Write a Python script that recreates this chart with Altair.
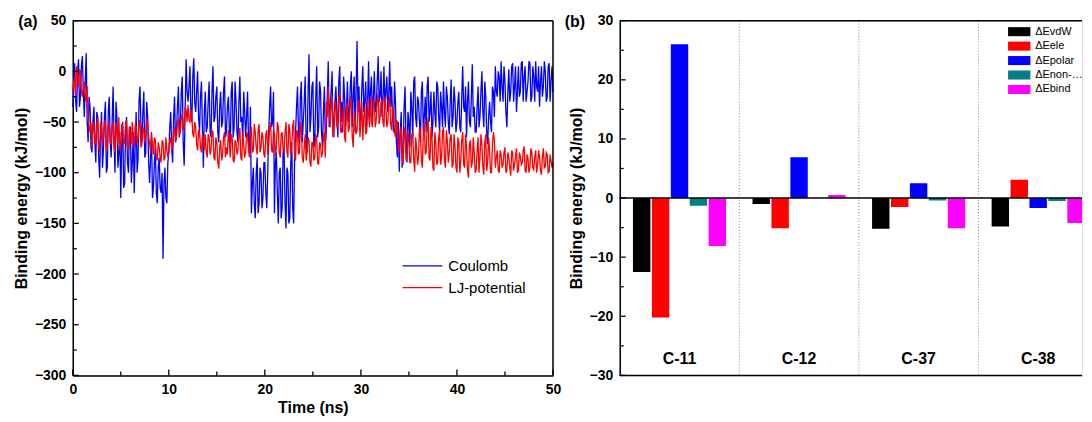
import altair as alt
import pandas as pd

# ---------------- panel (a): time series ----------------
# values at t = 0.0, 0.2, ..., 50.0 ns
coulomb_even = [
    -35, 8, -40, 12, -25, 15, -45, 18, -70, -35,
    -80, -35, -90, -45, -105, -40, -75, -30, -95, -25,
    -85, -15, -100, -45, -80, -125, -50, -110, -45, -100,
    -55, -90, -120, -40, -85, -15, -70, -20, -80, -45,
    -110, -60, -115, -75, -130, -85, -120, -185, -95, -130,
    -80, -40, -90, -25, -60, -15, -55, -5, -93, 12,
    -30, 5, -50, 13, -40, 0, -60, -10, -95, -20,
    -55, -10, -65, 5, -45, -15, -70, -20, -50, -5,
    -60, -25, -75, -10, -55, -30, -70, -5, -45, -20,
    -65, -20, -80, -140, -95, -145, -85, -130, -100, -125,
    -90, -135, -60, -15, -50, -140, -80, -150, -95, -135,
    -75, -155, -100, -145, -70, -150, -60, -15, -75, -10,
    -50, -5, -80, 17, -45, -10, -70, 5, -55, -20,
    -75, -15, -60, 10, -35, 0, -50, -15, -65, 5,
    -30, -5, -55, -10, -40, 0, -25, -60, 30, -15,
    -45, 5, -30, -55, 10, -20, -50, 0, -35, 15,
    -25, -45, 5, -20, -40, 10, -15, -60, -30, -85,
    -99, -40, -80, -15, -90, -50, -20, -65, -5, -55,
    -30, -70, -10, -45, -60, -5, -40, -65, -20, -55,
    -15, -60, -35, -10, -55, -25, -62, -8, -45, -30,
    -50, -20, -60, 5, -40, -65, -10, -55, 7, -35,
    -60, -15, -45, 0, -55, -25, -72, -30, -60, -20,
    5, -25, -5, 10, -30, -10, -55, 2, -20, 8,
    -15, -40, 5, -20, 10, -5, -30, -10, 8, -25,
    -5, 10, -20, -35, 5, -15, 0, -25, 8, -10,
    -20,
]
# values at t = 0.1, 0.3, ..., 49.9 ns
coulomb_odd = [
    -10, -30, 0, -35, 5, -20, -10, -50, -25, -75,
    -50, -70, -40, -85, -60, -95, -45, -100, -40, -70,
    -50, -70, -30, -95, -60, -70, -115, -60, -90, -55,
    -110, -60, -75, -100, -30, -55, -40, -85, -30, -90,
    -85, -125, -90, -120, -95, -115, -100, -110, -125, -90,
    -55, -75, -45, -70, -35, -65, -20, -70, -40, -20,
    -15, -40, -5, -30, -20, -45, -25, -55, -40, -60,
    -30, -60, -20, -50, -25, -60, -35, -55, -20, -65,
    -35, -55, -20, -65, -10, -60, -30, -50, -70, -40,
    -45, -70, -35, -110, -130, -100, -140, -95, -135, -90,
    -120, -100, -35, -55, -20, -90, -120, -100, -145, -80,
    -130, -95, -150, -90, -135, -85, -35, -60, -25, -70,
    -30, -70, -20, -60, -15, -75, -25, -65, -10, -60,
    -40, -70, -25, -55, -20, -65, -30, -45, -10, -50,
    -60, -25, -35, -50, -15, -55, -5, -20, -40, -50,
    -15, -40, -10, -30, -45, -5, -25, -40, -10, -30,
    0, -30, -35, -5, -25, -35, -45, -10, -70, -50,
    -60, -95, -35, -70, -40, -75, -35, -10, -45, -25,
    -50, -20, -60, -25, -15, -50, -20, -50, -40, -10,
    -45, -20, -55, -40, -15, -50, -30, -55, -15, -60,
    -30, -55, -25, -35, -15, -30, -50, -25, -45, -60,
    -35, -55, -20, -40, -10, -60, -45, -50, -15, -45,
    -20, 0, -30, -15, 5, -40, -20, -30, 5, -30,
    5, -20, -25, 8, -30, 5, -20, 10, -30, 5,
    -30, -15, 5, -10, -25, 10, -30, 5, -30, 5,
]
lj_even = [
    -20, -5, 5, -15, 0, -25, -10, -30, -45, -60,
    -75, -50, -70, -45, -80, -55, -65, -48, -78, -55,
    -72, -50, -80, -60, -45, -75, -55, -70, -48, -78,
    -60, -50, -75, -55, -68, -48, -72, -58, -62, -50,
    -70, -62, -82, -68, -88, -75, -90, -70, -85, -78,
    -80, -65, -72, -55, -65, -48, -60, -42, -55, -38,
    -33, -50, -45, -65, -55, -78, -60, -80, -70, -62,
    -85, -65, -78, -60, -88, -70, -96, -68, -82, -60,
    -75, -58, -85, -65, -90, -70, -78, -56, -88, -72,
    -80, -62, -85, -55, -78, -60, -82, -52, -75, -65,
    -85, -58, -72, -50, -80, -62, -75, -55, -85, -60,
    -78, -50, -85, -58, -72, -48, -88, -60, -80, -55,
    -90, -62, -80, -68, -94, -70, -85, -65, -92, -72,
    -80, -60, -30, -15, -55, -25, -65, -35, -50, -22,
    -60, -35, -70, -40, -55, -30, -75, -45, -58, -28,
    -50, -68, -35, -60, -42, -25, -55, -30, -48, -22,
    -45, -28, -55, -35, -50, -25, -58, -40, -65, -50,
    -80, -55, -92, -62, -85, -70, -90, -60, -99, -75,
    -85, -60, -95, -50, -80, -45, -88, -65, -98, -70,
    -90, -58, -85, -55, -95, -68, -80, -62, -92, -75,
    -100, -70, -88, -60, -95, -75, -105, -68, -90, -80,
    -98, -65, -85, -72, -102, -62, -90, -78, -100, -60,
    -95, -78, -100, -82, -92, -75, -98, -85, -103, -80,
    -92, -76, -98, -84, -90, -74, -100, -86, -95, -80,
    -97, -78, -92, -85, -102, -76, -94, -82, -99, -88,
    -90,
]
lj_odd = [
    -10, -25, -5, 2, -20, -15, -25, -15, -55, -50,
    -55, -72, -52, -75, -50, -70, -50, -75, -52, -70,
    -55, -75, -50, -72, -78, -52, -72, -50, -75, -55,
    -72, -68, -52, -70, -50, -75, -55, -70, -48, -65,
    -80, -72, -65, -85, -70, -85, -68, -88, -65, -85,
    -68, -78, -58, -70, -50, -62, -45, -58, -35, -50,
    -48, -38, -62, -50, -72, -58, -75, -62, -78, -80,
    -62, -82, -58, -85, -65, -90, -75, -88, -65, -85,
    -82, -70, -62, -88, -68, -82, -62, -85, -60, -85,
    -60, -78, -65, -80, -52, -75, -58, -80, -60, -82,
    -62, -82, -55, -78, -58, -85, -50, -80, -62, -78,
    -60, -80, -52, -82, -55, -85, -58, -82, -50, -85,
    -75, -88, -65, -90, -70, -88, -62, -90, -70, -85,
    -65, -85, -45, -40, -35, -60, -30, -55, -25, -60,
    -45, -65, -30, -60, -25, -65, -40, -62, -35, -65,
    -30, -45, -62, -28, -55, -50, -28, -55, -28, -52,
    -30, -50, -25, -55, -30, -52, -35, -60, -48, -75,
    -60, -85, -55, -88, -58, -90, -62, -88, -65, -92,
    -55, -88, -62, -82, -55, -85, -55, -95, -60, -92,
    -65, -92, -60, -88, -58, -90, -65, -95, -62, -95,
    -65, -100, -68, -92, -62, -98, -72, -95, -65, -100,
    -78, -100, -62, -95, -70, -98, -65, -100, -72, -68,
    -85, -98, -78, -95, -80, -100, -80, -95, -78, -98,
    -84, -100, -80, -92, -78, -98, -82, -100, -76, -95,
    -85, -100, -78, -98, -84, -95, -80, -100, -82, -95,
]
time_step_ns = 0.1
series_names = ["Coulomb", "LJ-potential"]
series_colors = ["#0000ff", "#ff0000"]

a_y_major = [-300, -250, -200, -150, -100, -50, 0, 50]
a_y_minor = [-275, -225, -175, -125, -75, -25, 25]
a_x_major = [0, 10, 20, 30, 40, 50]
a_x_minor = [5, 15, 25, 35, 45]

# ---------------- panel (b): bars ----------------
compounds = ["C-11", "C-12", "C-37", "C-38"]
components = ["ΔEvdW", "ΔEele", "ΔEpolar", "ΔEnon-polar", "ΔEbind"]
comp_colors = ["#000000", "#ff0000", "#0000ff", "#008080", "#ff00ff"]
e_vdw = [-12.5, -1.0, -5.2, -4.8]
e_ele = [-20.2, -5.1, -1.5, 3.1]
e_polar = [26.0, 6.9, 2.5, -1.7]
e_nonpolar = [-1.3, 0.0, -0.4, -0.5]
e_bind = [-8.1, 0.5, -5.1, -4.2]
b_y_major = [-30, -20, -10, 0, 10, 20, 30]
b_y_minor = [-25, -15, -5, 5, 15, 25]

FONT = "Liberation Sans"
W_A, W_B, H = 482, 464, 356
B_RANGE = 480  # full band range of panel (b); its right end lies past the page edge


def interleave(even, odd):
    out = []
    for e, o in zip(even, odd):
        out += [e, o]
    out.append(even[-1])
    return out


# ---- build tables ----
rows = []
for name, vals in zip(series_names, [interleave(coulomb_even, coulomb_odd),
                                     interleave(lj_even, lj_odd)]):
    for i, v in enumerate(vals):
        rows.append({"t": round(i * time_step_ns, 2), "E": v, "series": name})
ts = pd.DataFrame(rows)

bars = []
for comp, vals in zip(components, [e_vdw, e_ele, e_polar, e_nonpolar, e_bind]):
    for c, v in zip(compounds, vals):
        bars.append({"cmp": c, "comp": comp, "val": v})
bars = pd.DataFrame(bars)

ya_scale = alt.Scale(domain=[-300, 50], nice=False, zero=False)
xa_scale = alt.Scale(domain=[0, 50], nice=False, zero=False)
yb_scale = alt.Scale(domain=[-30, 30], nice=False, zero=False)
xb_scale = alt.Scale(domain=compounds, paddingInner=0, paddingOuter=0,
                     range=[0, B_RANGE])

axis_common = dict(grid=False, ticks=False, domain=True, domainColor="black",
                   domainWidth=1.5,
                   labelFont=FONT, labelFontSize=14, labelFontWeight="bold",
                   labelColor="black", titleFont=FONT, titleFontSize=16,
                   titleFontWeight="bold", titleColor="black", labelFlush=False)

xa_axis = alt.Axis(values=a_x_major, title="Time (ns)", labelPadding=7,
                   titlePadding=3, **axis_common)
ya_axis = alt.Axis(values=a_y_major, title="Binding energy (kJ/mol)",
                   labelPadding=7, titlePadding=5, **axis_common)
yb_axis = alt.Axis(values=b_y_major, title="Binding energy (kJ/mol)",
                   labelPadding=7, titlePadding=5, **axis_common)

lines = alt.Chart(ts).mark_line(strokeWidth=1.3).encode(
    x=alt.X("t:Q", scale=xa_scale, axis=xa_axis),
    y=alt.Y("E:Q", scale=ya_scale, axis=ya_axis),
    color=alt.Color("series:N", sort=series_names,
                    scale=alt.Scale(domain=series_names, range=series_colors),
                    legend=alt.Legend(title=None, orient="none", legendX=342, legendY=237,
                                      symbolType="M-2.5,0L2.5,0", symbolSize=256,
                                      symbolStrokeWidth=1.2, labelFont=FONT,
                                      labelFontSize=15, labelColor="black",
                                      labelOffset=17, rowPadding=5, padding=0)),
    order=alt.Order("series:N"),
)


def inward_y_ticks(major, minor, scale, axis):
    out = []
    for vals, L in [(major, 6), (minor, 4)]:
        out.append(alt.Chart(pd.DataFrame({"v": vals})).mark_rule(
            color="black", strokeWidth=1.3).encode(
            y=alt.Y("v:Q", scale=scale, axis=axis),
            x=alt.value(0), x2=alt.value(L)))
    return out


def inward_x_ticks(major, minor, scale, axis):
    out = []
    for vals, L in [(major, 6), (minor, 4)]:
        out.append(alt.Chart(pd.DataFrame({"v": vals})).mark_rule(
            color="black", strokeWidth=1.3).encode(
            x=alt.X("v:Q", scale=scale, axis=axis),
            y=alt.value(H), y2=alt.value(H - L)))
    return out


def frame_rules(w, right=True):
    out = [alt.Chart(pd.DataFrame({"k": [0]})).mark_rule(
        color="black", strokeWidth=1.5).encode(
        x=alt.value(0), x2=alt.value(w), y=alt.value(0))]
    if right:
        out.append(alt.Chart(pd.DataFrame({"k": [0]})).mark_rule(
            color="black", strokeWidth=1.5).encode(
            x=alt.value(w), y=alt.value(0), y2=alt.value(H)))
    else:
        out.append(alt.Chart(pd.DataFrame({"k": [0]})).mark_rule(
            color="black", strokeWidth=1.5).encode(
            x=alt.value(0), x2=alt.value(w), y=alt.value(H)))
    return out


label_a = alt.Chart(pd.DataFrame({"s": ["(a)"]})).mark_text(
    font=FONT, fontSize=16, fontWeight="bold", align="center", baseline="middle",
    color="black").encode(text="s:N", x=alt.value(-45), y=alt.value(1))

left = alt.layer(lines,
                 *inward_y_ticks(a_y_major, a_y_minor, ya_scale, ya_axis),
                 *inward_x_ticks(a_x_major, a_x_minor, xa_scale, xa_axis),
                 *frame_rules(W_A, right=True),
                 label_a).properties(width=W_A, height=H)

# ---- right panel ----
barch = alt.Chart(bars).mark_bar(stroke=None, clip=True).encode(
    x=alt.X("cmp:N", scale=xb_scale, sort=compounds, axis=None),
    xOffset=alt.XOffset("comp:N", sort=components,
                        scale=alt.Scale(domain=components, paddingInner=0.08,
                                        paddingOuter=0.7)),
    y=alt.Y("val:Q", scale=yb_scale, axis=yb_axis),
    color=alt.Color("comp:N", sort=components,
                    scale=alt.Scale(domain=components, range=comp_colors),
                    legend=alt.Legend(title=None, orient="none", legendX=394, legendY=4,
                                      symbolType="M-1.6,-0.65L1.6,-0.65L1.6,0.65L-1.6,0.65Z",
                                      symbolSize=196, symbolStrokeWidth=0,
                                      labelFont=FONT, labelFontSize=11,
                                      labelColor="black", labelOffset=9,
                                      labelLimit=52, rowPadding=2.5, padding=0)),
)

zero_rule = alt.Chart(pd.DataFrame({"v": [0]})).mark_rule(
    color="black", strokeWidth=1.5).encode(
    y=alt.Y("v:Q", scale=yb_scale, axis=yb_axis), x=alt.value(0), x2=alt.value(W_B))

seps = alt.Chart(pd.DataFrame({"cmp": compounds[1:]})).mark_rule(
    color="#888888", strokeWidth=1, strokeDash=[1, 2]).encode(
    x=alt.X("cmp:N", scale=xb_scale, sort=compounds, bandPosition=0, axis=None),
    y=alt.value(0), y2=alt.value(H))

group_labels = alt.Chart(pd.DataFrame({"cmp": compounds})).mark_text(
    font=FONT, fontSize=16, fontWeight="bold", baseline="middle", color="black").encode(
    x=alt.X("cmp:N", scale=xb_scale, sort=compounds, bandPosition=0.5, axis=None),
    y=alt.Y("yv:Q", scale=yb_scale, axis=yb_axis), text="cmp:N").transform_calculate(
    yv="-27.3")

label_b = alt.Chart(pd.DataFrame({"s": ["(b)"]})).mark_text(
    font=FONT, fontSize=16, fontWeight="bold", align="center", baseline="middle",
    color="black").encode(text="s:N", x=alt.value(-45), y=alt.value(1))

right = alt.layer(seps, barch, zero_rule, group_labels,
                  *inward_y_ticks(b_y_major, b_y_minor, yb_scale, yb_axis),
                  *frame_rules(W_B, right=False),
                  label_b).properties(width=W_B, height=H)

chart = alt.hconcat(left, right, spacing=2).resolve_scale(
    color="independent").resolve_legend(color="independent").configure_view(
    stroke=None).configure(background="white",
                           padding={"left": 4, "top": 4, "right": 0, "bottom": 0})

chart.save("out.html", embed_options={"renderer": "svg", "actions": False})
